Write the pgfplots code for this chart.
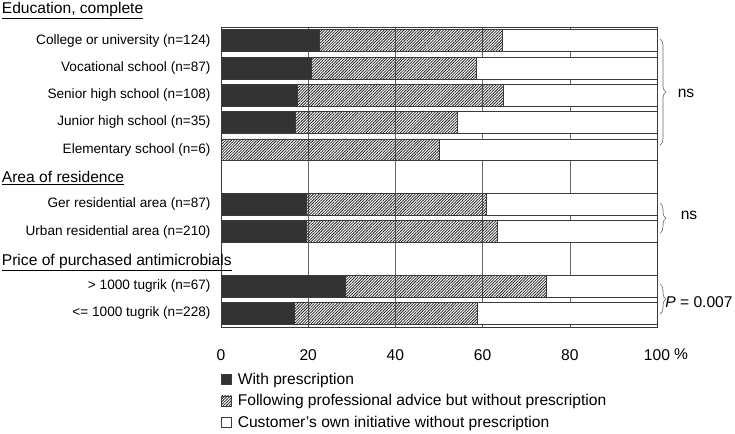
\documentclass[border=0pt]{standalone}
\usepackage{pgfplots}
\pgfplotsset{compat=1.18}
\usepackage{pgfplotstable}
\usepackage{fontspec}
\setmainfont{Liberation Sans}
\usetikzlibrary{patterns.meta,decorations.pathreplacing}
\definecolor{darkbar}{HTML}{333333}
\definecolor{edge}{HTML}{3A3A3A}
\definecolor{gridc}{HTML}{6A6A6A}
\newcommand{\fs}[1]{\fontsize{#1bp}{#1bp}\selectfont}
\pgfplotsset{sqlegend/.style={legend image code/.code={\draw[##1,draw=edge,line width=0.6pt] (0bp,-5bp) rectangle (10bp,5bp);}}}
\pgfplotstableread{
y a b c
0 22.6 41.9 35.5
1 20.7 37.9 41.4
2 17.6 47.2 35.2
3 17.1 37.1 45.8
4 0 50.0 50.0
6 19.5 41.4 39.1
7 19.5 43.8 36.7
9 28.4 46.3 25.3
10 16.7 42.1 41.2
}\datatable
\begin{document}
\begin{tikzpicture}
\path[use as bounding box] (0,0) rectangle (735bp,434bp);
\begin{axis}[
  at={(221bp,107bp)}, anchor=south west,
  scale only axis, width=436bp, height=300bp,
  xbar stacked, bar width=0.8,
  xmin=0, xmax=100, ymin=-0.5, ymax=10.5, y dir=reverse,
  xtick={0,20,40,60,80,100},
  ytick={0,1,2,3,4,6,7,9,10},
  yticklabels={College or university (n=124),Vocational school (n=87),Senior high school (n=108),Junior high school (n=35),Elementary school (n=6),Ger residential area (n=87),Urban residential area (n=210),{> 1000 tugrik (n=67)},{<= 1000 tugrik (n=228)}},
  major tick length=0pt,
  xmajorgrids, grid style={draw=gridc, line width=0.5pt},
  axis line style={draw=edge, line width=0.6pt},
  xticklabel style={font=\fs{15.6}, yshift=-19.5bp},
  yticklabel style={font=\fs{13.6}, xshift=-7bp},
  /pgf/number format/assume math mode=true,
  clip=false,
  legend style={at={(axis description cs:0,0)}, anchor=north west, xshift=0bp, yshift=-46bp,
    draw=none, fill=none, font=\fs{15.6}, row sep=8.5bp, inner sep=0pt,
    nodes={inner xsep=6bp, inner ysep=0bp}},
  legend cell align=left,
]
\addplot[fill=darkbar, draw=edge, line width=0.6pt, sqlegend] table[x=a,y=y]{\datatable};
\addplot[pattern={Lines[angle=45,distance=2bp,line width=0.8bp]}, pattern color=black!85, draw=edge, line width=0.6pt, sqlegend] table[x=b,y=y]{\datatable};
\addplot[fill=white, draw=edge, line width=0.6pt, sqlegend] table[x=c,y=y]{\datatable};
\legend{With prescription, Following professional advice but without prescription, Customer's own initiative without prescription}
\draw[gridc, line width=0.6pt, decorate, decoration={brace, amplitude=6bp}] ([xshift=3bp]axis cs:100,-0.06) -- ([xshift=3bp]axis cs:100,3.83);
\draw[gridc, line width=0.6pt, decorate, decoration={brace, amplitude=6bp}] ([xshift=3bp]axis cs:100,5.96) -- ([xshift=3bp]axis cs:100,7.06);
\draw[gridc, line width=0.6pt, decorate, decoration={brace, amplitude=6bp}] ([xshift=3bp]axis cs:100,8.93) -- ([xshift=3bp]axis cs:100,10.02);
\node[font=\fs{15.6}] at ([xshift=29bp]axis cs:100,1.94) {ns};
\node[font=\fs{15.6}] at ([xshift=32bp]axis cs:100,6.4) {ns};
\node[font=\fs{15.6}] at ([xshift=42bp]axis cs:100,9.6) {\textit{P} = 0.007};
\node[font=\fs{15.6}, anchor=north west, inner sep=0pt] at ([xshift=17bp, yshift=-21bp]axis cs:100,10.5) {\%};
\end{axis}
\node[font=\fs{15.6}, anchor=base west, inner sep=0pt] at (1.7bp,420.5bp) {\underline{Education, complete}};
\node[font=\fs{15.6}, anchor=base west, inner sep=0pt] at (1.7bp,251.5bp) {\underline{Area of residence}};
\node[font=\fs{15.6}, anchor=base west, inner sep=0pt] at (1.7bp,168.5bp) {\underline{Price of purchased antimicrobials}};
\end{tikzpicture}
\end{document}
